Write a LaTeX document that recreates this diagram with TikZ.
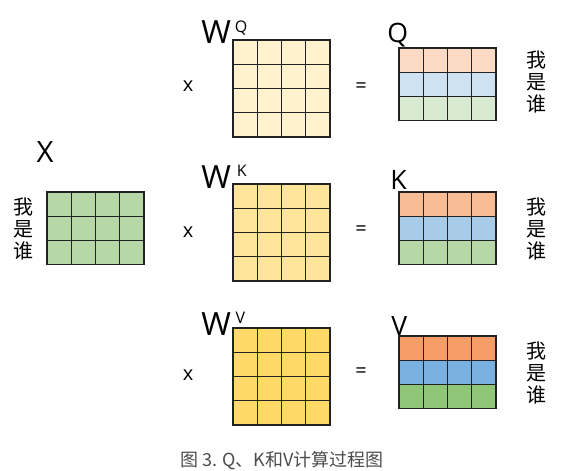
\documentclass[tikz,border=0pt]{standalone}
\usepackage{fontspec}
\setmainfont{Open Sans}
\newfontfamily\cjk{Noto Sans CJK SC}
\definecolor{wqfill}{HTML}{FFF2CC}
\definecolor{wkfill}{HTML}{FFE599}
\definecolor{wvfill}{HTML}{FFD966}
\definecolor{xfill}{HTML}{B6D7A8}
\definecolor{qo}{HTML}{FBDAC5}
\definecolor{qb}{HTML}{CFE2F3}
\definecolor{qg}{HTML}{D9EAD3}
\definecolor{ko}{HTML}{F8BC97}
\definecolor{kb}{HTML}{A8CBE8}
\definecolor{kg}{HTML}{B6D7A8}
\definecolor{vo}{HTML}{F79D66}
\definecolor{vb}{HTML}{7AB0E0}
\definecolor{vg}{HTML}{8FC677}
\definecolor{gridline}{HTML}{222222}
\begin{document}
\begin{tikzpicture}
    [
    x=0.75pt, y=-0.75pt,
    cell/.style={rectangle,draw=gridline,line width=0.9pt,inner sep=0pt,minimum size=18.19pt},
    wlabel/.style={anchor=base west,inner sep=0pt,font=\fontsize{24}{24}\selectfont},
    mlabel/.style={anchor=base west,inner sep=0pt,font=\fontsize{20}{20}\selectfont},
    op/.style={inner sep=0pt,font=\fontsize{15}{15}\selectfont},
    who/.style={align=center,inner sep=0pt,font=\cjk\fontsize{15}{16.5}\selectfont}
    ]
    \useasboundingbox (0,0) rectangle (587,471);
    % input X
    \node (xlabel) at (45,152.5) [inner sep=0pt,font=\fontsize{22}{22}\selectfont] {X};
    \node (xwho) at (23,228.5) [who] {我\\是\\谁};
    \foreach \i in {0,1,2}
      \foreach \j in {0,...,3}
        \node (x-\i-\j) at ({47+12.125+24.25*\j},{192+12.125+24.25*\i}) [cell,fill=xfill] {};
    % weight matrices
    \foreach \name/\top/\c in {wq/40/wqfill,wk/184/wkfill,wv/328/wvfill}
      \foreach \i in {0,...,3}
        \foreach \j in {0,...,3}
          \node (\name-\i-\j) at ({233+12.125+24.25*\j},{\top+12.125+24.25*\i}) [cell,fill=\c] {};
    % results Q, K, V
    \foreach \name/\top/\ca/\cb/\cc in {q/48/qo/qb/qg,k/192/ko/kb/kg,v/336/vo/vb/vg}
      \foreach \i/\c in {0/\ca,1/\cb,2/\cc}
        \foreach \j in {0,...,3}
          \node (\name-\i-\j) at ({399+12.125+24.25*\j},{\top+12.125+24.25*\i}) [cell,fill=\c] {};
    % labels
    \node (wqlabel) at (201,43) [wlabel] {W\raisebox{8pt}{\fontsize{12}{12}\selectfont\hspace{3pt}Q}};
    \node (wklabel) at (201,188) [wlabel] {W\raisebox{8.5pt}{\fontsize{12}{12}\selectfont\hspace{4.5pt}K}};
    \node (wvlabel) at (201,335) [wlabel] {W\raisebox{8.5pt}{\fontsize{12}{12}\selectfont\hspace{3.5pt}V}};
    \node (qlabel) at (387,42) [mlabel] {Q};
    \node (klabel) at (390,190) [mlabel] {K};
    \node (vlabel) at (391,335) [mlabel] {V};
    \node (times1) at (188,86) [op] {x};
    \node (times2) at (188,232) [op] {x};
    \node (times3) at (188,375) [op] {x};
    \node (eq1) at (361,88) [op] {=};
    \node (eq2) at (361,231) [op] {=};
    \node (eq3) at (361,373) [op] {=};
    \node (qwho) at (536,82) [who] {我\\是\\谁};
    \node (kwho) at (536,229) [who] {我\\是\\谁};
    \node (vwho) at (536,373) [who] {我\\是\\谁};
    \node (caption) at (282,461) [inner sep=0pt,text=black!70,font=\cjk\fontsize{13.5}{13.5}\selectfont] {图 3. Q、K和V计算过程图};
  \end{tikzpicture}
\end{document}
